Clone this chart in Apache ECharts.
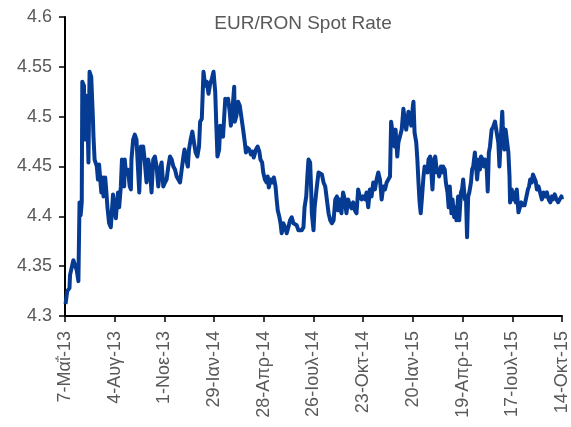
<!DOCTYPE html>
<html>
<head>
<meta charset="utf-8">
<script src="https://cdn.jsdelivr.net/npm/echarts@6/dist/echarts.min.js"></script>
<style>
  html, body { margin: 0; padding: 0; background: #fff; }
  #chart { width: 571px; height: 427px; }
</style>
</head>
<body>
<div id="chart"></div>
<script>
// x tick labels, one every 89 days starting 7 May 2013
const tickLabels = ['7-Μαΐ-13', '4-Αυγ-13', '1-Νοε-13', '29-Ιαν-14', '28-Απρ-14', '26-Ιουλ-14',
  '23-Οκτ-14', '20-Ιαν-15', '19-Απρ-15', '17-Ιουλ-15', '14-Οκτ-15'];

// days since 7 May 2013
const dayOffsets = [
  1, 4, 8, 9, 12, 15, 18, 21, 24, 26, 28, 30, 31, 34, 35, 38, 40, 42, 44, 47, 50, 51, 53, 57, 59,
  61, 63, 65, 68, 69, 72, 74, 76, 79, 82, 85, 86, 89, 91, 94, 95, 97, 100, 102, 103, 106, 107, 109,
  112, 114, 116, 118, 119, 122, 125, 128, 131, 133, 136, 137, 140, 142,
  146, 149, 152, 155, 158, 161, 164, 167, 170, 173, 176, 179, 182, 185, 188, 191, 194, 197, 200,
  203, 206, 209, 212, 214, 217, 220, 222, 225, 228, 231, 234, 237, 240, 242, 245, 248, 251, 254,
  257, 260, 263, 266, 269, 271, 273, 276, 278, 281, 283, 287, 290, 292,
  295, 297, 300, 303, 304, 307, 310, 313, 316, 319, 322, 324, 326, 330, 333, 336, 338, 342, 345,
  348, 350, 353, 355, 358, 361, 363, 365, 368, 371, 374, 377, 379, 381, 384, 386, 388, 391, 394,
  397, 400, 403, 406, 409, 412, 415, 418, 421, 424, 427, 429, 432, 434, 436, 439, 441, 442, 445, 447,
  451, 454, 457, 460, 463, 466, 469, 472, 475, 478, 481, 484, 487, 489, 492, 495, 498, 501, 504,
  507, 510, 513, 516, 519, 522, 525, 528, 531, 534, 537, 540, 543, 546, 549, 552, 555, 558, 561,
  564, 567, 570, 573, 576, 579, 582, 584, 587, 590, 592, 595, 597,
  600, 603, 606, 608, 611, 613, 615, 618, 620, 623, 624, 626, 629, 631, 633, 635, 637, 639, 642,
  644, 646, 649, 651, 654, 656, 658, 661, 663, 666, 668, 670, 673, 675, 677, 680, 682, 685, 687,
  689, 692, 694, 697, 699, 701, 704, 706, 709, 711, 713, 716, 718, 720, 722, 724, 727, 729, 731,
  734, 736, 738, 741, 743, 745, 748, 750,
  752, 755, 757, 759, 761, 764, 767, 770, 773, 776, 778, 781, 783, 784, 787, 789, 792, 794, 796,
  797, 800, 802, 805, 807, 809, 812, 814, 817, 819, 823, 826, 829, 831, 833, 836, 838, 840, 843,
  845, 848, 851, 854, 857, 860, 863, 866, 869, 872, 874, 877, 880, 883, 886, 889, 890
];

// EUR/RON spot rate
const rates = [
  4.312, 4.325, 4.328, 4.341, 4.343, 4.356, 4.356, 4.346, 4.335, 4.414, 4.401, 4.414, 4.535, 4.531,
  4.477, 4.521, 4.505, 4.454, 4.545, 4.540, 4.498, 4.480, 4.457, 4.450, 4.437,
  4.452, 4.452, 4.424, 4.439, 4.420, 4.439, 4.425, 4.409, 4.393, 4.389, 4.391, 4.422, 4.424, 4.398,
  4.399, 4.424, 4.409, 4.430, 4.457, 4.447, 4.430, 4.457, 4.444,
  4.447, 4.440, 4.430, 4.427, 4.457, 4.477, 4.482, 4.477, 4.477, 4.424, 4.470, 4.467, 4.470, 4.460,
  4.434, 4.457, 4.447, 4.424, 4.457, 4.460, 4.450, 4.430, 4.447, 4.454, 4.430, 4.434, 4.437, 4.450,
  4.460, 4.457, 4.450, 4.447, 4.440,
  4.437, 4.434, 4.447, 4.460, 4.467, 4.457, 4.450, 4.467, 4.477, 4.485, 4.474, 4.464, 4.460, 4.470,
  4.495, 4.498, 4.545, 4.531, 4.535,
  4.523, 4.533, 4.538, 4.545, 4.525, 4.491, 4.460, 4.467, 4.491, 4.484, 4.480, 4.518, 4.513, 4.518,
  4.505, 4.491, 4.508, 4.530, 4.495, 4.501, 4.515, 4.511, 4.510, 4.487, 4.474, 4.464, 4.469, 4.467,
  4.462, 4.465, 4.459, 4.467, 4.470,
  4.465, 4.457, 4.454, 4.444, 4.437, 4.434, 4.440, 4.429, 4.437, 4.434, 4.439, 4.430, 4.417, 4.406,
  4.399, 4.393, 4.383, 4.393, 4.389,
  4.383, 4.389, 4.396, 4.399, 4.393, 4.394, 4.391, 4.386, 4.384, 4.386, 4.389, 4.409, 4.420, 4.440,
  4.457, 4.454, 4.424, 4.403, 4.386, 4.409,
  4.430, 4.444, 4.445, 4.442, 4.434, 4.430, 4.432, 4.403, 4.396, 4.393, 4.396, 4.417, 4.420, 4.406,
  4.417, 4.403, 4.424, 4.417, 4.403,
  4.417, 4.411, 4.408, 4.414, 4.406, 4.403, 4.427, 4.420, 4.417, 4.420, 4.417, 4.424, 4.409, 4.427,
  4.420, 4.434, 4.427, 4.437, 4.444,
  4.437, 4.417, 4.430, 4.427, 4.434, 4.437, 4.440, 4.495, 4.496, 4.470, 4.487, 4.460, 4.474,
  4.475, 4.487, 4.508, 4.498, 4.487, 4.495, 4.505, 4.506, 4.491, 4.511, 4.515, 4.484, 4.474, 4.457,
  4.434, 4.414, 4.403, 4.417, 4.440,
  4.450, 4.447, 4.444, 4.457, 4.460, 4.444, 4.427, 4.457, 4.460, 4.444, 4.447, 4.440, 4.450, 4.444,
  4.450, 4.447, 4.434, 4.424, 4.409,
  4.430, 4.403, 4.417, 4.399, 4.409, 4.396, 4.420, 4.396, 4.424, 4.427, 4.437, 4.417, 4.420, 4.379,
  4.420, 4.424, 4.434, 4.447, 4.450,
  4.464, 4.465, 4.437, 4.457, 4.447, 4.460, 4.457, 4.450,
  4.457, 4.450, 4.425, 4.464, 4.470, 4.487, 4.490, 4.495, 4.496, 4.474, 4.450, 4.484, 4.505, 4.491,
  4.467, 4.487, 4.485, 4.464, 4.440,
  4.414, 4.427, 4.417, 4.424, 4.414, 4.427, 4.404, 4.403, 4.414, 4.411, 4.411, 4.409, 4.427, 4.430,
  4.437, 4.434, 4.442, 4.440, 4.435,
  4.427, 4.430, 4.429, 4.417, 4.424, 4.420, 4.424, 4.417, 4.414, 4.420, 4.417, 4.422, 4.417, 4.414,
  4.417, 4.420, 4.417
];

const chart = echarts.init(document.getElementById('chart'), null, { renderer: 'canvas' });

const seriesData = dayOffsets.map((d, i) => [d, rates[i]]);
const labelColor = '#595959';

const option = {
  animation: false,
  backgroundColor: '#fff',
  title: {
    text: 'EUR/RON Spot Rate',
    left: 298,
    top: 9,
    textAlign: 'center',
    textStyle: {
      color: labelColor,
      fontFamily: 'Liberation Sans, Arial, sans-serif',
      fontSize: 19,
      fontWeight: 'normal'
    }
  },
  grid: {
    left: 65,
    right: 9,
    top: 17,
    bottom: 111,
    containLabel: false
  },
  xAxis: {
    type: 'value',
    min: 0,
    max: 890,
    interval: 89,
    splitLine: { show: false },
    axisLine: { lineStyle: { color: '#000', width: 2 } },
    axisTick: { show: true, length: 6, lineStyle: { color: '#000', width: 1.5 } },
    axisLabel: {
      rotate: 90,
      margin: 15,
      color: labelColor,
      fontFamily: 'Liberation Sans, Arial, sans-serif',
      fontSize: 18,
      formatter(value) {
        return tickLabels[Math.round(value / 89)] || '';
      }
    }
  },
  yAxis: {
    type: 'value',
    min: 4.3,
    max: 4.6,
    interval: 0.05,
    splitLine: { show: false },
    axisLine: { show: true, lineStyle: { color: '#000', width: 2 } },
    axisTick: { show: true, length: 6, lineStyle: { color: '#000', width: 1.5 } },
    axisLabel: {
      margin: 13,
      color: labelColor,
      fontFamily: 'Liberation Sans, Arial, sans-serif',
      fontSize: 18,
      formatter(value) {
        return String(parseFloat(value.toFixed(2)));
      }
    }
  },
  series: [{
    type: 'line',
    data: seriesData,
    showSymbol: false,
    symbol: 'none',
    lineStyle: { color: '#063b94', width: 4, join: 'round' },
    z: 3
  }]
};

chart.setOption(option);
</script>
</body>
</html>
